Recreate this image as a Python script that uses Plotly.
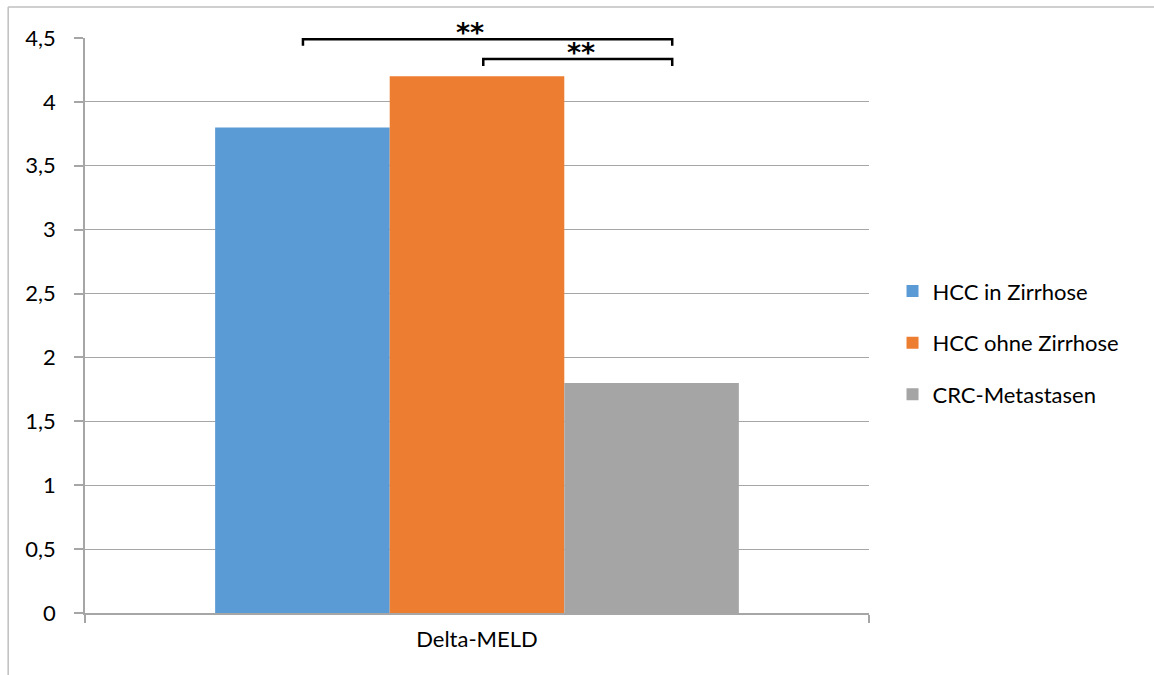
import plotly.graph_objects as go

# Delta-MELD per Gruppe
category = ["Delta-MELD"]
groups = ["HCC in Zirrhose", "HCC ohne Zirrhose", "CRC-Metastasen"]
values = [3.8, 4.2, 1.8]
colors = ["#5b9bd5", "#ed7d31", "#a5a5a5"]

y_ticks = [0, 0.5, 1, 1.5, 2, 2.5, 3, 3.5, 4, 4.5]

FONT = "Lato, Open Sans, sans-serif"
GRID = "#a6a6a6"
FS = 22

fig = go.Figure()
for i, (name, val, col) in enumerate(zip(groups, values, colors)):
    fig.add_trace(go.Bar(
        x=category, y=[val], name=name, marker_color=col,
        marker_line_width=0, legendgroup=f"g{i}",
    ))

# Signifikanz-Klammern: x0, x1, Sternposition (Bruchteile des Plotbereichs),
# Höhe der Klammer und ihrer Enden (Datenwerte)
brackets = [
    (0.278, 0.749, 0.491, 4.49, 4.44),
    (0.508, 0.749, 0.633, 4.335, 4.28),
]
shapes = []
annotations = []
for x0, x1, xs, yl, yt in brackets:
    shapes.append(dict(type="path", xref="paper", yref="y",
                       path=f"M {x0},{yt} L {x0},{yl} L {x1},{yl} L {x1},{yt}",
                       line=dict(color="black", width=2.5)))
    annotations.append(dict(xref="paper", yref="y", x=xs, y=yl,
                            text="<b>**</b>", showarrow=False, yanchor="bottom",
                            yshift=-11,
                            font=dict(size=27, color="black", family="DejaVu Sans")))

# Rahmen um den Diagrammbereich (oben und links)
frame = dict(color="#bfbfbf", width=1.5)
shapes.append(dict(type="line", xref="paper", yref="paper",
                   x0=-0.098, x1=1.6, y0=1.054, y1=1.054, line=frame))
shapes.append(dict(type="line", xref="paper", yref="paper",
                   x0=-0.098, x1=-0.098, y0=-0.3, y1=1.054, line=frame))

fig.update_layout(
    width=1154, height=675,
    margin=dict(l=85, r=285, t=38, b=62),
    paper_bgcolor="white", plot_bgcolor="white",
    separators=",.",
    barmode="group", bargap=0.332, bargroupgap=0,
    font=dict(family=FONT, size=FS, color="black"),
    shapes=shapes, annotations=annotations,
    legend=dict(x=1.03, y=0.47, xanchor="left", yanchor="middle",
                font=dict(size=FS, family=FONT, color="black"),
                tracegroupgap=20, traceorder="grouped"),
    xaxis=dict(type="category", showline=True, linecolor=GRID, linewidth=1.5,
               ticks="outside", tickson="boundaries", ticklen=8, tickcolor=GRID,
               tickwidth=1.5, showgrid=False, ticklabelstandoff=6),
    yaxis=dict(range=[0, 4.5], tickvals=y_ticks, showgrid=True, gridcolor=GRID,
               gridwidth=1, showline=True, linecolor=GRID, linewidth=1.5,
               ticks="outside", ticklen=9, tickcolor=GRID, tickwidth=1.5,
               zeroline=False, ticklabelstandoff=14, tickformat=".1~f"),
)

fig.write_html("out.html")
